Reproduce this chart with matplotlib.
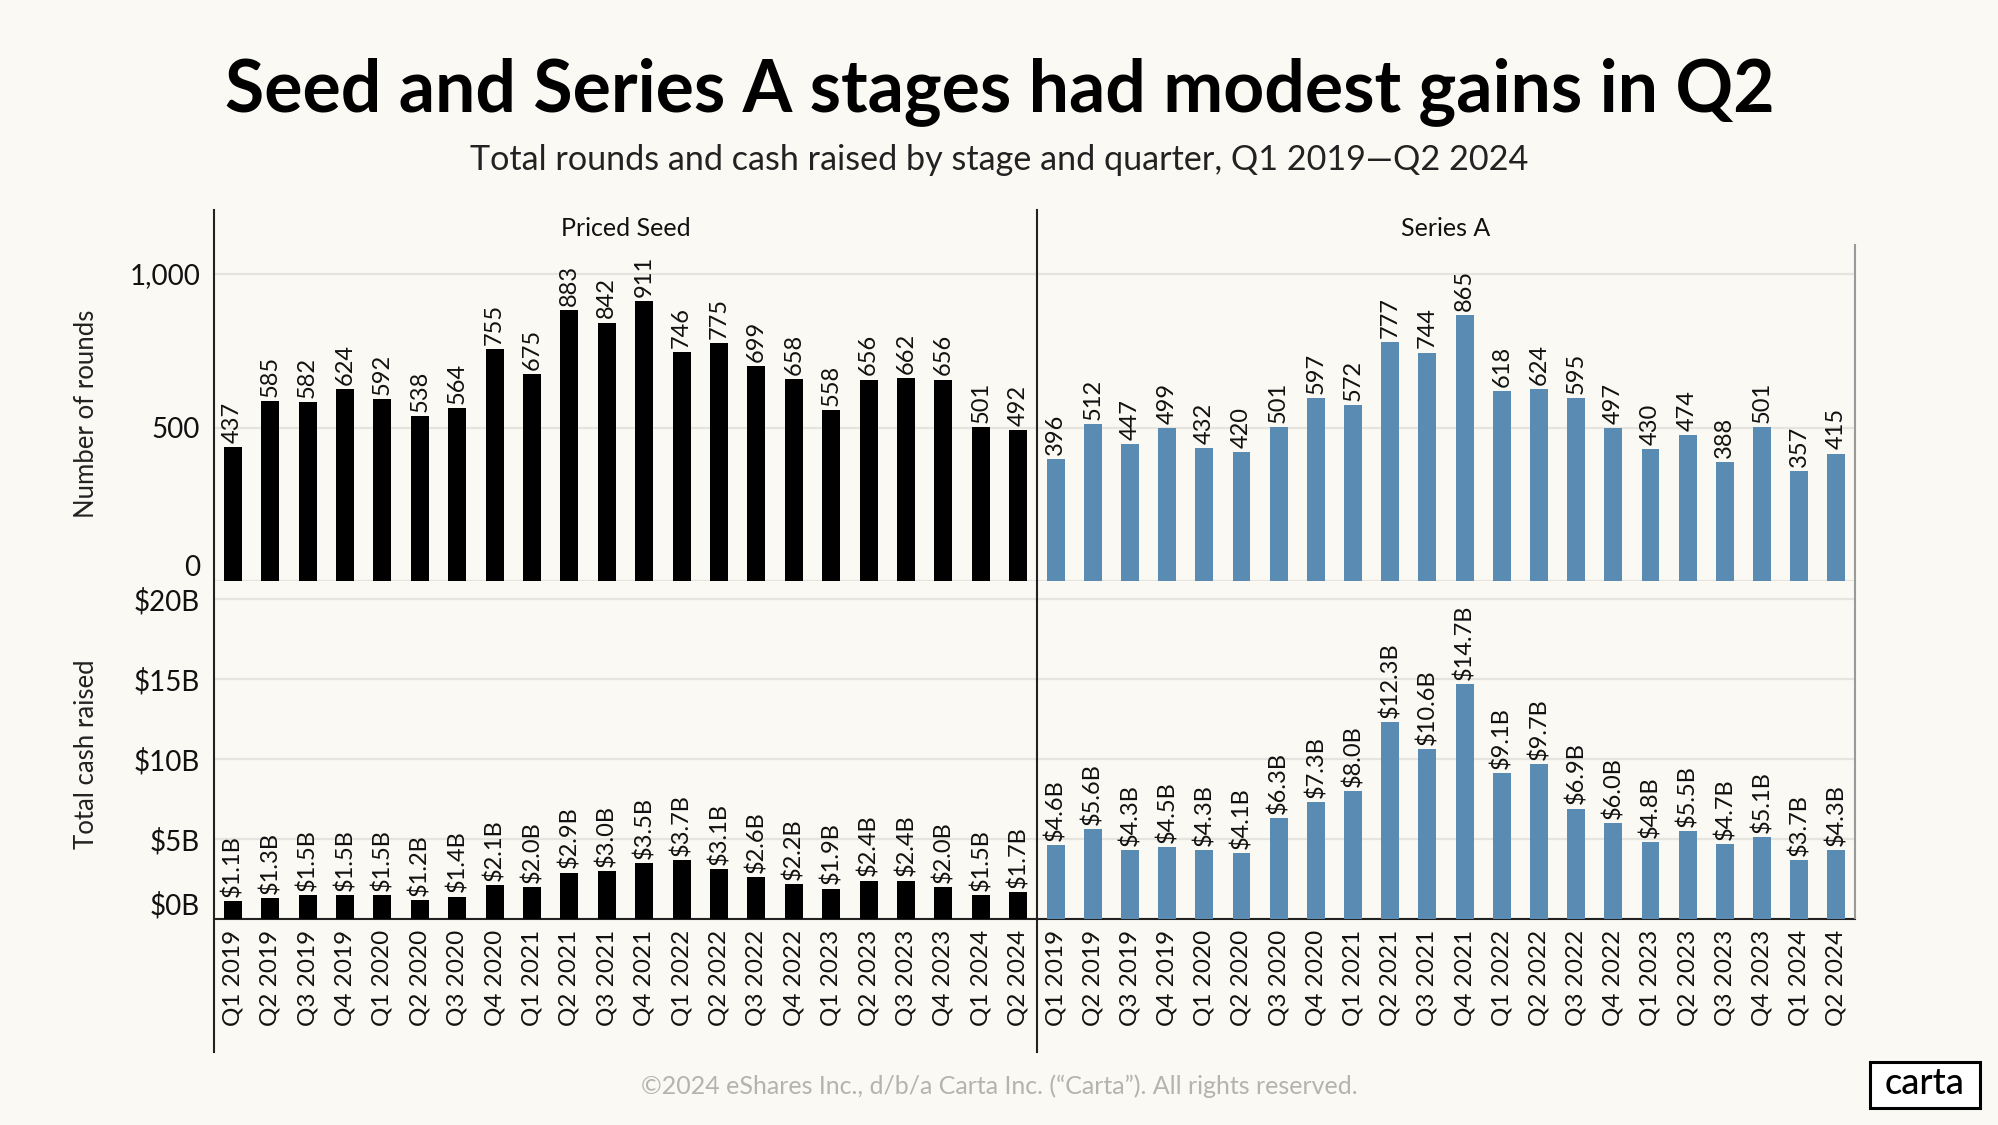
import matplotlib
matplotlib.use("Agg")
import matplotlib.pyplot as plt
from matplotlib.lines import Line2D
from matplotlib.patches import Rectangle

quarters = [f"Q{q} {y}" for y in range(2019, 2025) for q in range(1, 5)][:22]

seed_rounds = [437, 585, 582, 624, 592, 538, 564, 755, 675, 883, 842, 911,
               746, 775, 699, 658, 558, 656, 662, 656, 501, 492]
seriesa_rounds = [396, 512, 447, 499, 432, 420, 501, 597, 572, 777, 744, 865,
                  618, 624, 595, 497, 430, 474, 388, 501, 357, 415]
seed_cash = [1.1, 1.3, 1.5, 1.5, 1.5, 1.2, 1.4, 2.1, 2.0, 2.9, 3.0, 3.5,
             3.7, 3.1, 2.6, 2.2, 1.9, 2.4, 2.4, 2.0, 1.5, 1.7]
seriesa_cash = [4.6, 5.6, 4.3, 4.5, 4.3, 4.1, 6.3, 7.3, 8.0, 12.3, 10.6, 14.7,
                9.1, 9.7, 6.9, 6.0, 4.8, 5.5, 4.7, 5.1, 3.7, 4.3]

BG = "#FBF9F3"
GRID = "#E6E4DE"
BLACK = "#000000"
BLUE = "#5A8CB3"
FONT = "Lato"

W, H = 1999, 1125
plt.rcParams["font.family"] = [FONT, "DejaVu Sans"]

fig = plt.figure(figsize=(W / 100, H / 100), dpi=100, facecolor=BG)


def rect(x0, y0, x1, y1):
    # pixel box (top-left origin) -> figure fraction
    return [x0 / W, 1 - y1 / H, (x1 - x0) / W, (y1 - y0) / H]


def fx(x):
    return x / W


def fy(y):
    return 1 - y / H


x_left, x_mid, x_right = 214, 1037, 1855
top_y0, top_y1 = 210, 581
bot_y0, bot_y1 = 590, 919

panels = [
    ("Priced Seed", seed_rounds, seed_cash, BLACK, x_left, x_mid),
    ("Series A", seriesa_rounds, seriesa_cash, BLUE, x_mid, x_right),
]

pos = list(range(len(quarters)))
for i, (name, rounds, cash, color, xa, xb) in enumerate(panels):
    ax_t = fig.add_axes(rect(xa, top_y0, xb, top_y1))
    ax_b = fig.add_axes(rect(xa, bot_y0, xb, bot_y1))

    ax_t.bar(pos, rounds, width=0.48, color=color, zorder=3)
    for x, v in zip(pos, rounds):
        ax_t.annotate(f"{v}", (x, v), xytext=(0, 3), textcoords="offset points",
                      rotation=90, ha="center", va="bottom", fontsize=17,
                      color="#111111")
    ax_t.set_ylim(0, (top_y1 - top_y0) / 307 * 1000)
    ax_t.set_yticks([0, 500, 1000])

    ax_b.bar(pos, cash, width=0.48, color=color, zorder=3)
    for x, v in zip(pos, cash):
        ax_b.annotate(f"${v:.1f}B", (x, v), xytext=(0, 3), textcoords="offset points",
                      rotation=90, ha="center", va="bottom", fontsize=17,
                      color="#111111")
    ax_b.set_ylim(0, (bot_y1 - bot_y0) / 16.0)
    ax_b.set_yticks([0, 5, 10, 15, 20])
    ax_b.set_xticks(pos)
    ax_b.set_xticklabels(quarters, rotation=90, fontsize=17.5, color="#111111")
    ax_b.tick_params(axis="x", length=0, pad=8)

    for ax in (ax_t, ax_b):
        ax.set_facecolor("none")
        ax.set_xlim(-0.5, len(quarters) - 0.5)
        for s in ax.spines.values():
            s.set_visible(False)
        ax.yaxis.grid(True, color=GRID, linewidth=1.6, zorder=0)
        ax.tick_params(axis="y", length=0, pad=10, labelsize=20, labelcolor="#111111")
        if i == 1:
            ax.tick_params(axis="y", labelleft=False)
    ax_t.set_xticks([])
    ax_b.spines["bottom"].set_visible(True)
    ax_b.spines["bottom"].set_color("#222222")
    ax_b.spines["bottom"].set_linewidth(1.5)

    if i == 0:
        ax_t.set_yticklabels(["0", "500", "1,000"])
        ax_b.set_yticklabels(["$0B", "$5B", "$10B", "$15B", "$20B"])
        ax_t.get_yticklabels()[0].set_va("bottom")
        ax_b.get_yticklabels()[0].set_va("bottom")
        ax_t.set_ylabel("Number of rounds", fontsize=18.5, color="#222222")
        ax_b.set_ylabel("Total cash raised", fontsize=18.5, color="#222222")
        ax_t.yaxis.set_label_coords((99 - xa) / (xb - xa), 0.45)
        ax_b.yaxis.set_label_coords((99 - xa) / (xb - xa), 0.5)

    fig.text(fx((xa + xb) / 2), fy(228), name, ha="center", va="center",
             fontsize=18, color="#111111")

# frame lines
fig.add_artist(Line2D([fx(x_left)] * 2, [fy(210), fy(1052)], color="#222222", lw=1.5))
fig.add_artist(Line2D([fx(x_mid)] * 2, [fy(210), fy(1052)], color="#222222", lw=1.5))
fig.add_artist(Line2D([fx(x_right)] * 2, [fy(245), fy(918)], color="#9a9a9a", lw=1.5))

fig.text(0.5, fy(92), "Seed and Series A stages had modest gains in Q2",
         ha="center", va="center", fontsize=51.5, fontweight="bold", color=BLACK)
fig.text(0.5, fy(160), "Total rounds and cash raised by stage and quarter, Q1 2019\u2014Q2 2024",
         ha="center", va="center", fontsize=24.6, color="#222222")
fig.text(0.5, fy(1086),
         "\u00a92024 eShares Inc., d/b/a Carta Inc. (\u201cCarta\u201d). All rights reserved.",
         ha="center", va="center", fontsize=18, color="#B5B3AE")

# carta logo box
fig.add_artist(Rectangle((fx(1870), fy(1108)), fx(1980) - fx(1870), fy(1062) - fy(1108),
                         transform=fig.transFigure, facecolor="white",
                         edgecolor=BLACK, lw=2.2))
fig.text(fx(1925), fy(1084), "carta", ha="center", va="center", fontsize=26,
         fontweight="medium", color=BLACK)

fig.savefig("out.png", dpi=100, facecolor=BG)
